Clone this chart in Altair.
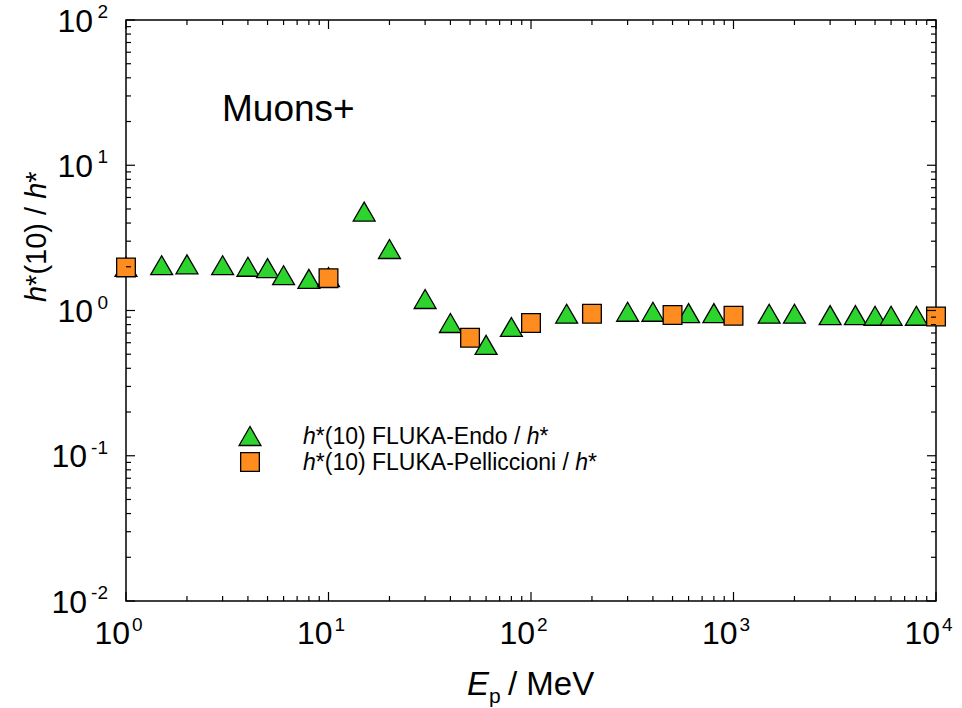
import altair as alt
import pandas as pd

# ---------------- data ----------------
endo_E = [1, 1.5, 2, 3, 4, 5, 6, 8, 10, 15, 20, 30, 40, 60, 80, 150, 300, 400,
          600, 800, 1500, 2000, 3000, 4000, 5000, 6000, 8000]
endo_ratio = [2.0, 2.05, 2.08, 2.05, 2.0, 1.96, 1.75, 1.65, 1.7, 4.8, 2.65, 1.2,
              0.82, 0.58, 0.77, 0.95, 0.98, 0.98, 0.96, 0.96, 0.95, 0.95, 0.93,
              0.93, 0.92, 0.92, 0.92]
pell_E = [1, 10, 50, 100, 200, 500, 1000, 10000]
pell_ratio = [1.98, 1.67, 0.65, 0.82, 0.95, 0.93, 0.92, 0.91]

x_major = [1, 10, 100, 1000, 10000]
x_exp = ["0", "1", "2", "3", "4"]
y_major_pos = [1, 10, 100]
y_exp_pos = ["0", "1", "2"]
y_major_neg = [0.01, 0.1]
y_exp_neg = ["-2", "-1"]
x_minor = [m * d for d in [1, 10, 100, 1000] for m in range(2, 10)]
y_minor = [m * d for d in [0.01, 0.1, 1, 10] for m in range(2, 10)]

series_title = "Muons+"
legend_endo = [("h", True), ("*(10) FLUKA-Endo / ", False), ("h", True), ("*", False)]
legend_pell = [("h", True), ("*(10) FLUKA-Pelliccioni / ", False), ("h", True), ("*", False)]
ytitle = [("h", True), ("*(10) / ", False), ("h", True), ("*", False)]

# ---------------- styling ----------------
W, H = 810, 581
FONT = "Liberation Sans"
GREEN = "#2ED42E"
ORANGE = "#FF8C1E"

AW = {"h": .556, "*": .389, "(": .333, ")": .333, "1": .556, "0": .556, " ": .278,
      "/": .278, "F": .611, "L": .556, "U": .722, "K": .667, "A": .667, "-": .333,
      "E": .667, "n": .556, "d": .556, "o": .556, "P": .667, "e": .556, "l": .222,
      "i": .222, "c": .5}


def tw(s, size):
    return sum(AW.get(ch, .556) for ch in s) * size


one = pd.DataFrame({"k": [0]})


def txt(s, x, y, size, italic=False, angle=0, align="left", baseline="alphabetic"):
    return alt.Chart(one).mark_text(
        text=s, font=FONT, fontSize=size, fontStyle="italic" if italic else "normal",
        angle=angle, align=align, baseline=baseline, color="black"
    ).encode(x=alt.value(x), y=alt.value(y))


def rich(segs, x, y, size, vertical=False):
    layers = []
    pos = 0.0
    for s, it in segs:
        if vertical:
            layers.append(txt(s, x, y - pos, size, it, angle=270))
        else:
            layers.append(txt(s, x + pos, y, size, it))
        pos += tw(s, size)
    return layers


xs = alt.Scale(type="log", domain=[1, 10000], nice=False)
ys = alt.Scale(type="log", domain=[0.01, 100], nice=False)

endo = pd.DataFrame({"E": endo_E, "r": endo_ratio})
pell = pd.DataFrame({"E": pell_E, "r": pell_ratio})

X = alt.X("E:Q", scale=xs, axis=None)
Y = alt.Y("r:Q", scale=ys, axis=None)

tri = dict(shape="triangle-up", filled=True, fill=GREEN, stroke="black",
           strokeWidth=1.3, size=480, opacity=1, fillOpacity=1)
sq = dict(shape="square", filled=True, fill=ORANGE, stroke="black",
          strokeWidth=1.3, size=350, opacity=1, fillOpacity=1)

layers = []
layers.append(alt.Chart(endo).mark_point(**tri).encode(x=X, y=Y))
layers.append(alt.Chart(pell).mark_point(**sq).encode(x=X, y=Y))

# ticks (inward, on all four sides)
for vals, ln in [(x_major, 9), (x_minor, 5)]:
    d = pd.DataFrame({"E": vals})
    layers.append(alt.Chart(d).mark_rule(color="black", strokeWidth=1.2).encode(
        x=X, y=alt.value(H), y2=alt.value(H - ln)))
    layers.append(alt.Chart(d).mark_rule(color="black", strokeWidth=1.2).encode(
        x=X, y=alt.value(0), y2=alt.value(ln)))
for vals, ln in [(y_major_pos + y_major_neg, 9), (y_minor, 5)]:
    d = pd.DataFrame({"r": vals})
    layers.append(alt.Chart(d).mark_rule(color="black", strokeWidth=1.2).encode(
        y=Y, x=alt.value(0), x2=alt.value(ln)))
    layers.append(alt.Chart(d).mark_rule(color="black", strokeWidth=1.2).encode(
        y=Y, x=alt.value(W), x2=alt.value(W - ln)))

# x tick labels
LS, ES = 32, 19
xl = pd.DataFrame({"E": x_major, "e": x_exp})
layers.append(alt.Chart(xl).mark_text(font=FONT, fontSize=LS, align="right", dx=4,
                                      baseline="alphabetic", color="black").encode(
    x=X, y=alt.value(H + 43), text=alt.value("10")))
layers.append(alt.Chart(xl).mark_text(font=FONT, fontSize=ES, align="left", dx=6,
                                      baseline="alphabetic", color="black").encode(
    x=X, y=alt.value(H + 30), text="e:N"))

# y tick labels
for vals, exps, off in [(y_major_pos, y_exp_pos, -33), (y_major_neg, y_exp_neg, -39)]:
    yl = pd.DataFrame({"r": vals, "e": exps})
    layers.append(alt.Chart(yl).mark_text(font=FONT, fontSize=LS, align="right", dy=11.5,
                                          baseline="alphabetic", color="black").encode(
        y=Y, x=alt.value(off), text=alt.value("10")))
    layers.append(alt.Chart(yl).mark_text(font=FONT, fontSize=ES, align="right", dy=-2,
                                          baseline="alphabetic", color="black").encode(
        y=Y, x=alt.value(-18), text="e:N"))

# axis titles
layers.append(txt("E", 341, 675, 33, italic=True))
layers.append(txt("p", 363, 683, 21))
layers.append(txt("/ MeV", 382, 675, 33))
layers += rich(ytitle, -80, 282, 29, vertical=True)

# annotation
layers.append(txt(series_title, 96, 101, 37))

# legend
layers.append(alt.Chart(one).mark_point(**tri).encode(x=alt.value(124), y=alt.value(416)))
layers.append(alt.Chart(one).mark_point(**sq).encode(x=alt.value(124), y=alt.value(442)))
layers += rich(legend_endo, 177, 424, 23)
layers += rich(legend_pell, 177, 450, 23)

chart = alt.layer(*layers).properties(
    width=W, height=H,
    autosize=alt.AutoSizeParams(type="none"),
    padding={"left": 126, "top": 20, "right": 26, "bottom": 107},
    background="white",
).configure_view(stroke="black", strokeWidth=1.5)

chart.save("out.html", embed_options={"renderer": "svg", "actions": False})
